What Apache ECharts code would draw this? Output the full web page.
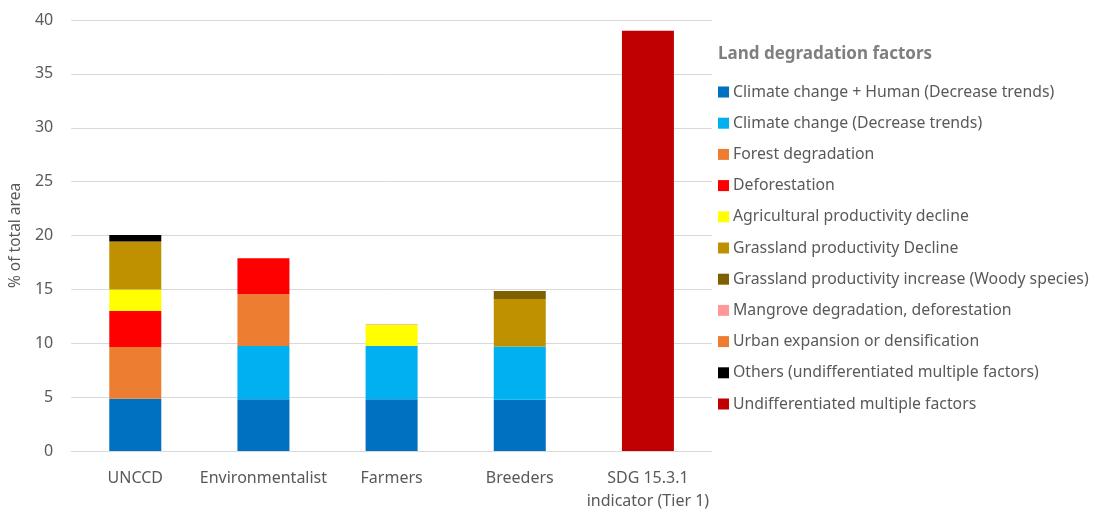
<!DOCTYPE html>
<html><head><meta charset="utf-8">
<script src="https://cdn.jsdelivr.net/npm/echarts@6/dist/echarts.min.js"></script>
<style>html,body{margin:0;padding:0;background:#fff}#c{width:1100px;height:513px}</style>
</head><body><div id="c"></div>
<script>
const categories = ['UNCCD', 'Environmentalist', 'Farmers', 'Breeders', 'SDG 15.3.1\nindicator (Tier 1)'];
const yTicks = [0, 5, 10, 15, 20, 25, 30, 35, 40];
const legendTitle = 'Land degradation factors';
const yAxisName = '% of total area';

const seriesNames = [
  'Climate change + Human (Decrease trends)',
  'Climate change (Decrease trends)',
  'Forest degradation',
  'Deforestation',
  'Agricultural productivity decline',
  'Grassland productivity Decline',
  'Grassland productivity increase (Woody species)',
  'Mangrove degradation, deforestation',
  'Urban expansion or densification',
  'Others (undifferentiated multiple factors)',
  'Undifferentiated multiple factors'
];
const seriesColors = ['#0070C0', '#00B0F0', '#ED7D31', '#FF0000', '#FFFF00', '#BF9000', '#7F6000', '#FF9999', '#ED7D31', '#000000', '#C00000'];

const climateHuman   = [4.85, 4.8, 4.8, 4.75, null];
const climateChange  = [null, 4.95, 4.95, 4.95, null];
const forestDeg      = [4.8, 4.8, null, null, null];
const deforestation  = [3.35, 3.35, null, null, null];
const agriDecline    = [2.0, null, 1.95, null, null];
const grassDecline   = [4.45, null, null, 4.4, null];
const grassIncrease  = [null, null, null, 0.75, null];
const mangrove       = [null, null, null, null, null];
const urban          = [null, null, 0.05, null, null];
const others         = [0.6, null, null, null, null];
const undiff         = [null, null, null, null, 39.0];

const seriesData = [climateHuman, climateChange, forestDeg, deforestation, agriDecline, grassDecline, grassIncrease, mangrove, urban, others, undiff];

const font = '"Noto Sans", Lato, sans-serif';
const chart = echarts.init(document.getElementById('c'), null, {renderer: 'canvas'});
chart.setOption({
  animation: false,
  textStyle: {fontFamily: font},
  grid: {left: 66, right: 388, top: 20, bottom: 55},
  title: {
    text: legendTitle, left: 713, top: 41,
    textStyle: {fontFamily: font, fontSize: 17, fontWeight: 'bold', color: '#7F7F7F'}
  },
  legend: {
    orient: 'vertical', left: 713, top: 77,
    icon: 'rect', itemWidth: 11, itemHeight: 11, itemGap: 11.2,
    textStyle: {fontFamily: font, fontSize: 15.8, color: '#595959', lineHeight: 20, padding: [0, 0, 0, -1]},
    data: seriesNames
  },
  xAxis: {
    type: 'category', data: categories,
    axisLine: {lineStyle: {color: '#D9D9D9'}},
    axisTick: {show: false},
    axisLabel: {interval: 0, fontFamily: font, fontSize: 16, color: '#595959', margin: 16, lineHeight: 23}
  },
  yAxis: {
    type: 'value', min: yTicks[0], max: yTicks[yTicks.length - 1], interval: 5,
    name: yAxisName, nameLocation: 'middle', nameGap: 47,
    nameTextStyle: {fontFamily: font, fontSize: 15.5, color: '#595959'},
    axisLine: {show: false}, axisTick: {show: false},
    axisLabel: {fontFamily: font, fontSize: 16, color: '#595959', margin: 18},
    splitLine: {lineStyle: {color: '#D9D9D9'}}
  },
  series: seriesNames.map((n, i) => ({
    name: n, type: 'bar', stack: 'total', barWidth: 52,
    data: seriesData[i],
    itemStyle: {color: seriesColors[i]}
  }))
});
</script></body></html>
